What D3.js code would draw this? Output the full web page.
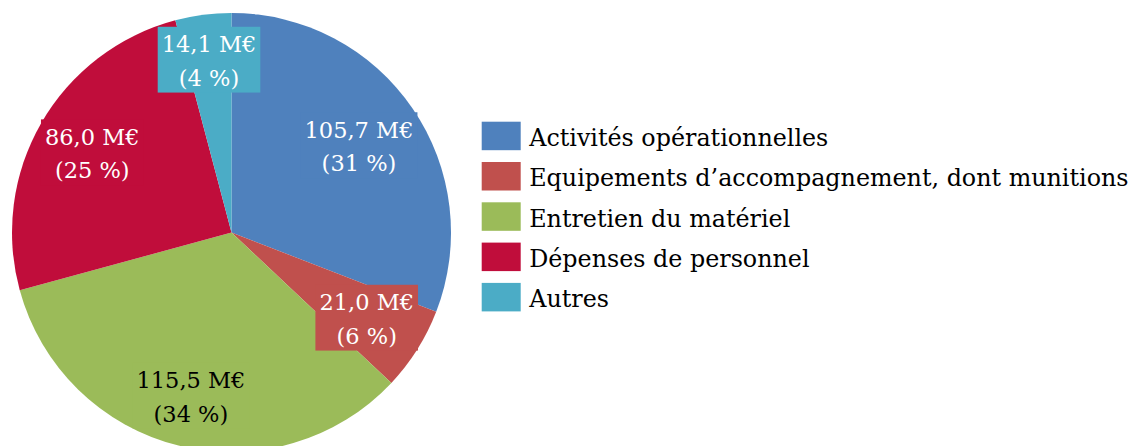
<!DOCTYPE html>
<html>
<head>
<meta charset="utf-8">
<script src="https://cdn.jsdelivr.net/npm/d3@7/dist/d3.min.js"></script>
<style>
  html, body { margin: 0; padding: 0; background: #fff; }
  svg { display: block; }
</style>
</head>
<body>
<svg id="chart"></svg>
<script>
// data
const categories = [
    "Activités opérationnelles",
    "Equipements d’accompagnement, dont munitions",
    "Entretien du matériel",
    "Dépenses de personnel",
    "Autres",
];
const amounts = [105.7, 21.0, 115.5, 86.0, 14.1];   // M€
const percents = [31, 6, 34, 25, 4];

// style
const colors = ["#4F81BD", "#C0504D", "#9BBB59", "#C00D3B", "#4BACC6"];
const textColors = ["#fff", "#fff", "#000", "#fff", "#fff"];
// where each label sits along its slice's middle angle, as a share of the radius
const labelRadius = [0.704, 0.728, 0.765, 0.732, 0.794];

const width = 1134;
const height = 446;
const cx = 231.5;
const cy = 232.5;
const radius = 219.5;
const font = "'DejaVu Serif', serif";

const svg = d3.select("#chart")
    .attr("width", width)
    .attr("height", height)
    .attr("viewBox", [0, 0, width, height]);

const data = categories.map((c, i) => ({ name: c, value: amounts[i], pct: percents[i], i }));

const pie = d3.pie()
    .value(d => d.value)
    .sort(null);
const arcs = pie(data);

const arc = d3.arc()
    .innerRadius(0)
    .outerRadius(radius);

const g = svg.append("g")
    .attr("transform", `translate(${cx},${cy})`);

g.selectAll("path.slice")
    .data(arcs)
    .join("path")
    .attr("class", "slice")
    .attr("d", arc)
    .attr("fill", d => colors[d.data.i]);

const fmt = v => d3.format(".1f")(v).replace(".", ",");
const lineH = 33.4;

const labels = g.selectAll("g.label")
    .data(arcs)
    .join("g")
    .attr("class", "label")
    .attr("transform", d => {
        const r = radius * labelRadius[d.data.i];
        const c = d3.arc().innerRadius(r).outerRadius(r).centroid(d);
        return `translate(${c})`;
    });

labels.each(function(d) {
    const lg = d3.select(this);
    const box = lg.append("rect").attr("fill", colors[d.data.i]);
    const t = lg.append("text")
        .attr("text-anchor", "middle")
        .attr("font-family", font)
        .attr("font-size", 22.5)
        .attr("fill", textColors[d.data.i]);
    // box centre is the anchor; baselines relative to it
    const top = -(lineH + 25.7 + 6.7) / 2;
    const b1 = top + 25.7;
    t.append("tspan").attr("x", 0).attr("y", b1).text(`${fmt(d.data.value)} M€`);
    t.append("tspan").attr("x", 0).attr("y", b1 + lineH).text(`(${d.data.pct} %)`);
    const w = t.node().getBBox().width + 8;
    box.attr("x", -w / 2)
        .attr("y", top)
        .attr("width", w)
        .attr("height", lineH + 25.7 + 6.7);
});

// legend
const legend = svg.append("g")
    .attr("transform", "translate(481.7,121.7)");

const rows = legend.selectAll("g")
    .data(data)
    .join("g")
    .attr("transform", (d, i) => `translate(0,${i * 40.3})`);

rows.append("rect")
    .attr("width", 39)
    .attr("height", 28.5)
    .attr("fill", d => colors[d.i]);

rows.append("text")
    .attr("x", 47.5)
    .attr("y", 24.3)
    .attr("font-family", font)
    .attr("font-size", 23.8)
    .attr("fill", "#000")
    .text(d => d.name);
</script>
</body>
</html>
